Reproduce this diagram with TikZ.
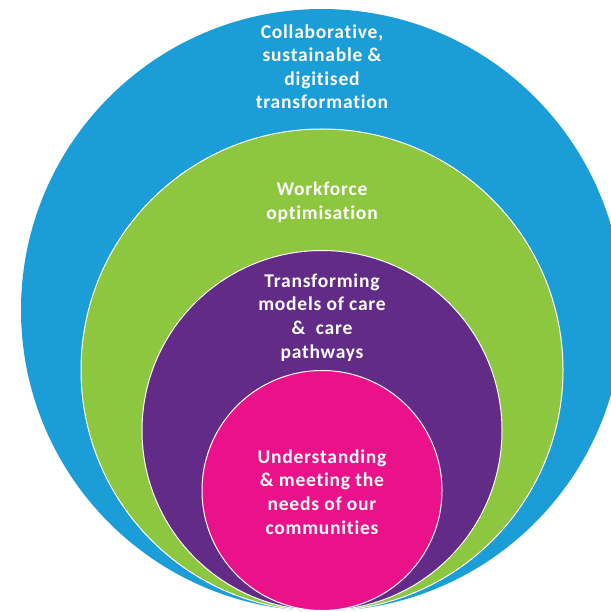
\documentclass[tikz,border=0pt]{standalone}
\usepackage{fontspec}
\setmainfont{Carlito}[LetterSpace=4,Ligatures={NoCommon}]
\begin{document}
\begin{tikzpicture}[x=1pt,y=-1pt,
  ring/.style={circle,inner sep=0pt,minimum size=#1},
  rim/.style={draw=white,line width=1pt},
  label/.style={text=white,align=center,inner sep=0pt,anchor=base,
    font=\fontsize{19.5}{23.6}\selectfont\bfseries}]
\definecolor{ringblue}{RGB}{27,157,216}
\definecolor{ringgreen}{RGB}{141,198,63}
\definecolor{ringpurple}{RGB}{99,43,136}
\definecolor{ringpink}{RGB}{234,17,138}
\useasboundingbox (0,0) rectangle (610,612);
\fill[white] (0,0) rectangle (610,612);
% nested circles, all touching at the bottom point
\node[ring=602pt,fill=ringblue] (outer) at (322,310) {};
\node[ring=482pt,fill=ringgreen,rim] (second) at (322,370) {};
\node[ring=360pt,fill=ringpurple,rim] (third) at (322,430.5) {};
\node[ring=240pt,fill=ringpink,rim] (inner) at (322,490.5) {};
% ring captions, placed by the baseline of their last line
\node[label] (outertext) at (322,109) {Collaborative,\\sustainable \&\\digitised\\transformation};
\node[label] (secondtext) at (322,219.3) {Workforce\\optimisation};
\node[label] (thirdtext) at (322,358) {Transforming\\models of care\\\&\ \ care\\pathways};
\node[label] (innertext) at (322,534) {Understanding\\\& meeting the\\needs of our\\communities};
\end{tikzpicture}
\end{document}
